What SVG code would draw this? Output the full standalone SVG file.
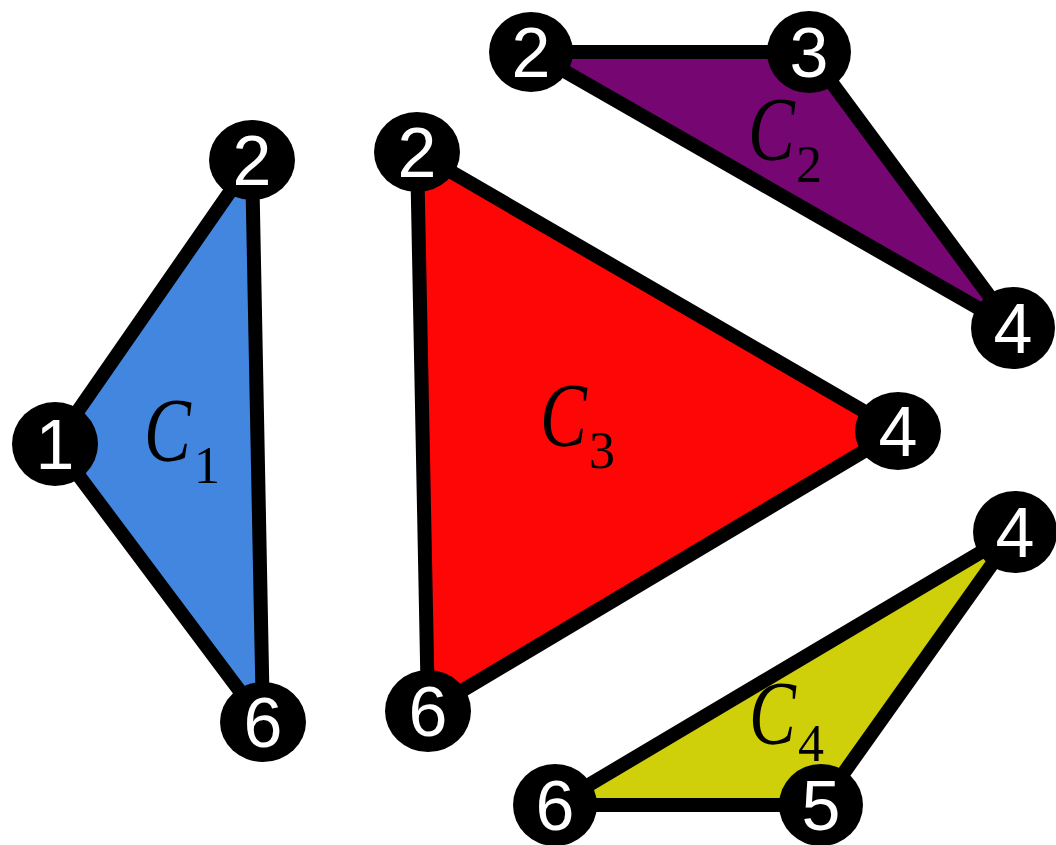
<svg xmlns="http://www.w3.org/2000/svg" width="1056" height="845" viewBox="0 0 1056 845">
<style>
.edge{stroke:#000;stroke-width:14;fill:none;stroke-linecap:round}
.node ellipse{fill:#000}
.num{fill:#fff;font-family:"Liberation Sans",Arial,sans-serif;font-size:70px;text-anchor:middle}
.lab{fill:#000;font-family:"Liberation Serif","Times New Roman",serif;font-style:italic;font-size:90px}
.sub{fill:#000;font-family:"Liberation Serif","Times New Roman",serif;font-size:52px}
</style>
<rect width="1056" height="845" fill="#fff"/>
<g id="fills">
<polygon points="55,444 252,160 263,722" fill="#4286E0"/>
<polygon points="417,152 898,431 428,711" fill="#FF0606"/>
<polygon points="531,52 809,52 1013,328" fill="#760672"/>
<polygon points="1015,532 821,805 555,805" fill="#CFD00A"/>
</g>
<g id="labels">
<text class="lab" x="144" y="461" transform="translate(144 0) scale(0.78 1) translate(-144 0)">C</text><text class="sub" x="194" y="483">1</text>
<text class="lab" x="540" y="446" transform="translate(540 0) scale(0.78 1) translate(-540 0)">C</text><text class="sub" x="589" y="468">3</text>
<text class="lab" x="748" y="160" transform="translate(748 0) scale(0.78 1) translate(-748 0)">C</text><text class="sub" x="796" y="182">2</text>
<text class="lab" x="749" y="744" transform="translate(749 0) scale(0.78 1) translate(-749 0)">C</text><text class="sub" x="798" y="761">4</text>
</g>
<g id="connectors">
<line class="edge" x1="55" y1="444" x2="252" y2="160"/>
<line class="edge" x1="252" y1="160" x2="263" y2="722"/>
<line class="edge" x1="55" y1="444" x2="263" y2="722"/>
<line class="edge" x1="417" y1="152" x2="898" y2="431"/>
<line class="edge" x1="898" y1="431" x2="428" y2="711"/>
<line class="edge" x1="417" y1="152" x2="428" y2="711"/>
<line class="edge" x1="531" y1="52" x2="809" y2="52"/>
<line class="edge" x1="809" y1="52" x2="1013" y2="328"/>
<line class="edge" x1="531" y1="52" x2="1013" y2="328"/>
<line class="edge" x1="1015" y1="532" x2="821" y2="805"/>
<line class="edge" x1="821" y1="805" x2="555" y2="805"/>
<line class="edge" x1="555" y1="805" x2="1015" y2="532"/>
</g>
<g id="n1_1" class="node"><ellipse cx="55" cy="444" rx="43" ry="42"/><text class="num" x="55" y="469">1</text></g>
<g id="n1_2" class="node"><ellipse cx="252" cy="160" rx="43" ry="40"/><text class="num" x="252" y="185">2</text></g>
<g id="n1_6" class="node"><ellipse cx="263" cy="722" rx="43" ry="40"/><text class="num" x="263" y="747">6</text></g>
<g id="n3_2" class="node"><ellipse cx="417" cy="152" rx="43" ry="40"/><text class="num" x="417" y="177">2</text></g>
<g id="n3_4" class="node"><ellipse cx="898" cy="431" rx="43" ry="39"/><text class="num" x="898" y="456">4</text></g>
<g id="n3_6" class="node"><ellipse cx="428" cy="711" rx="43" ry="41"/><text class="num" x="428" y="736">6</text></g>
<g id="n2_2" class="node"><ellipse cx="531" cy="52" rx="42" ry="40"/><text class="num" x="531" y="77">2</text></g>
<g id="n2_3" class="node"><ellipse cx="809" cy="52" rx="42" ry="41"/><text class="num" x="809" y="77">3</text></g>
<g id="n2_4" class="node"><ellipse cx="1013" cy="328" rx="42" ry="41"/><text class="num" x="1013" y="353">4</text></g>
<g id="n4_4" class="node"><ellipse cx="1015" cy="532" rx="42" ry="41"/><text class="num" x="1015" y="557">4</text></g>
<g id="n4_5" class="node"><ellipse cx="821" cy="805" rx="42" ry="41"/><text class="num" x="821" y="830">5</text></g>
<g id="n4_6" class="node"><ellipse cx="555" cy="805" rx="42" ry="41"/><text class="num" x="555" y="830">6</text></g>
</svg>
